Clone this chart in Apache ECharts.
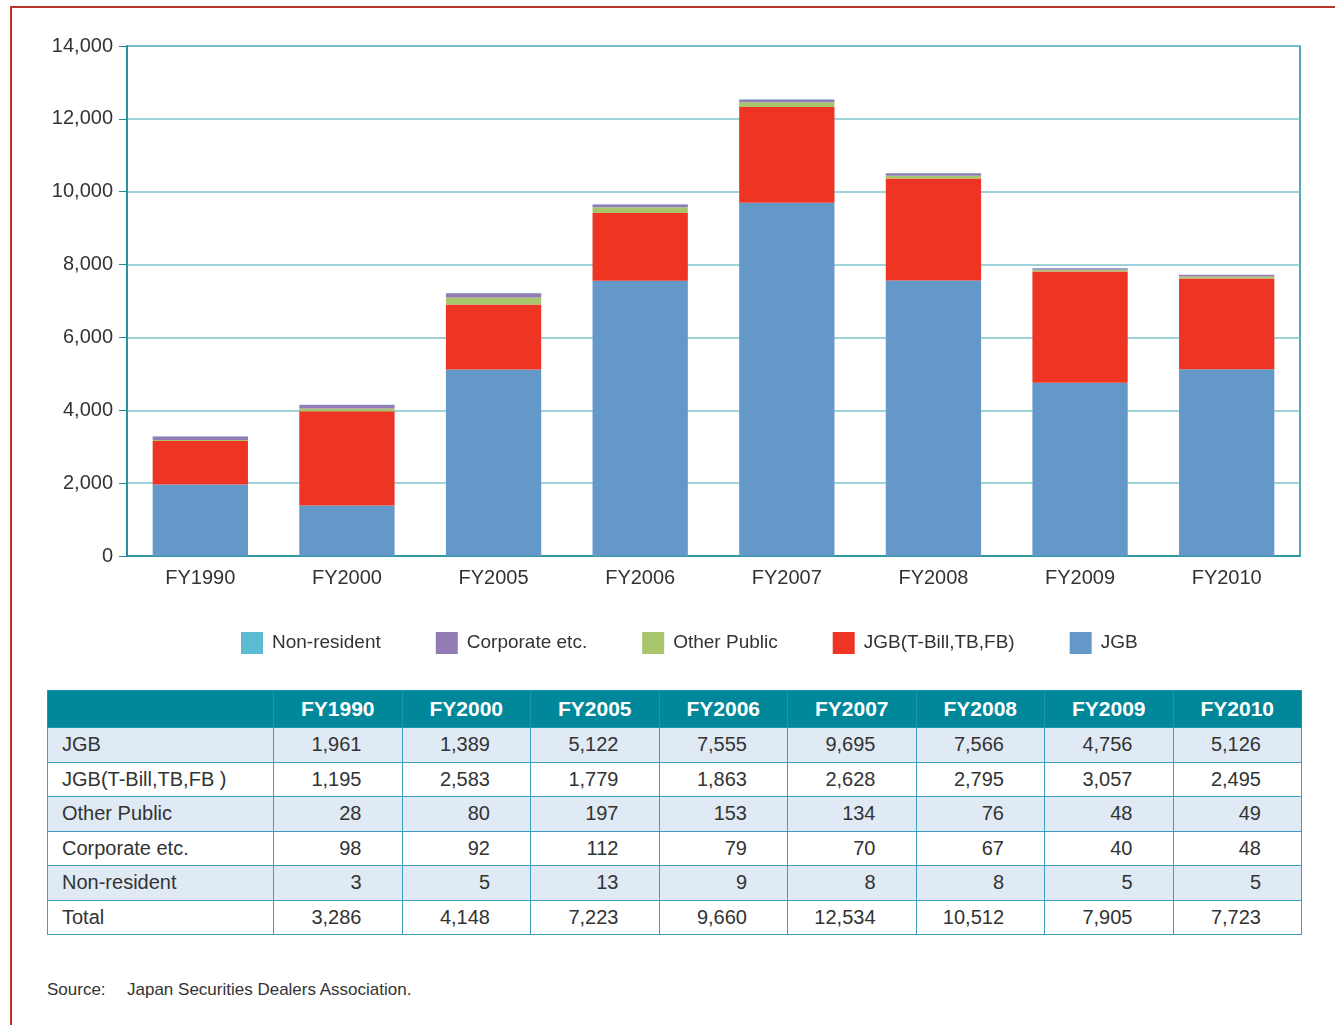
<!DOCTYPE html>
<html>
<head>
<meta charset="utf-8">
<script src="https://cdn.jsdelivr.net/npm/echarts@6/dist/echarts.min.js"></script>
<style>
  html, body { margin: 0; padding: 0; background: #fff; }
  body { width: 1335px; height: 1025px; position: relative; overflow: hidden;
         font-family: 'Liberation Sans', Arial, sans-serif; color: #333; }
  #frame { position: absolute; left: 10px; top: 6px; right: -10px; bottom: -10px;
           border-top: 2px solid #b8352c; border-left: 2px solid #b8352c; }
  #chart { position: absolute; left: 0; top: 0; width: 1335px; height: 680px; }
  #tbl { position: absolute; left: 47px; top: 690px; width: 1254px; table-layout: fixed;
         border-collapse: collapse; font-size: 20px; color: #333; }
  #tbl td, #tbl th { border: 1.5px solid #3a9fc0; padding: 0; height: 33.5px; }
  #tbl th { background: #00889a; color: #fff; font-weight: bold; font-size: 21px;
            height: 36px; border-color: #1b95b0; text-align: center; }
  #tbl td.lab { padding-left: 14px; text-align: left; }
  #tbl td.num { padding-right: 40px; text-align: right; }
  #tbl tr.alt td { background: #e0eaf4; }
  #src { position: absolute; left: 47px; top: 980px; font-size: 17px; color: #333; }
  #src span { display: inline-block; width: 80px; }
</style>
</head>
<body>
<div id="frame"></div>
<div id="chart"></div>
<table id="tbl"></table>
<div id="src"><span>Source:</span>Japan Securities Dealers Association.</div>
<script>
var years = ['FY1990', 'FY2000', 'FY2005', 'FY2006', 'FY2007', 'FY2008', 'FY2009', 'FY2010'];
var jgb = [1961, 1389, 5122, 7555, 9695, 7566, 4756, 5126];
var jgbBill = [1195, 2583, 1779, 1863, 2628, 2795, 3057, 2495];
var otherPublic = [28, 80, 197, 153, 134, 76, 48, 49];
var corporate = [98, 92, 112, 79, 70, 67, 40, 48];
var nonResident = [3, 5, 13, 9, 8, 8, 5, 5];
var totals = [3286, 4148, 7223, 9660, 12534, 10512, 7905, 7723];

var series = [
  { name: 'JGB', data: jgb, color: '#6398c9', table: 'JGB' },
  { name: 'JGB(T-Bill,TB,FB)', data: jgbBill, color: '#ee3524', table: 'JGB(T-Bill,TB,FB )' },
  { name: 'Other Public', data: otherPublic, color: '#a9c56c', table: 'Other Public' },
  { name: 'Corporate etc.', data: corporate, color: '#937cb6', table: 'Corporate etc.' },
  { name: 'Non-resident', data: nonResident, color: '#5bbbd2', table: 'Non-resident' }
];

var fnt = "'Liberation Sans', Arial, sans-serif";

echarts.init(document.getElementById('chart')).setOption({
  animation: false,
  textStyle: { fontFamily: fnt },
  grid: {
    left: 127, top: 46, width: 1173, height: 510,
    show: true, borderColor: '#1a8a99', borderWidth: 1.5
  },
  legend: {
    left: 236, top: 627,
    itemWidth: 22, itemHeight: 22, itemGap: 55,
    icon: 'rect',
    textStyle: { fontSize: 19, color: '#333', padding: [0, 0, 0, 4] },
    data: ['Non-resident', 'Corporate etc.', 'Other Public', 'JGB(T-Bill,TB,FB)', 'JGB']
  },
  xAxis: {
    type: 'category',
    data: years,
    axisLine: { lineStyle: { color: '#1a8a99', width: 1.5 } },
    axisTick: { show: false },
    axisLabel: { fontSize: 20, color: '#333', margin: 12 }
  },
  yAxis: {
    type: 'value',
    min: 0, max: 14000, interval: 2000,
    axisLine: { show: true, lineStyle: { color: '#1a8a99', width: 1.5 } },
    axisTick: { show: true, length: 8, lineStyle: { color: '#1a8a99' } },
    splitLine: { lineStyle: { color: '#80c3cf', width: 1.5 } },
    axisLabel: {
      fontSize: 20, color: '#333', margin: 14,
      formatter: function (v) { return v.toLocaleString('en-US'); }
    }
  },
  series: series.map(function (s) {
    return {
      name: s.name, type: 'bar', stack: 'all', data: s.data,
      barWidth: '65%', itemStyle: { color: s.color }
    };
  })
});

// table under the chart
var fmt = function (v) { return v.toLocaleString('en-US'); };
var html = '<colgroup><col style="width:226px">' +
  years.map(function () { return '<col style="width:128.5px">'; }).join('') + '</colgroup>';
html += '<tr><th></th>' + years.map(function (y) { return '<th>' + y + '</th>'; }).join('') + '</tr>';
var rows = series.map(function (s) { return [s.table, s.data]; });
rows.push(['Total', totals]);
rows.forEach(function (r, i) {
  html += '<tr class="' + (i % 2 === 0 ? 'alt' : '') + '"><td class="lab">' + r[0] + '</td>' +
    r[1].map(function (v) { return '<td class="num">' + fmt(v) + '</td>'; }).join('') + '</tr>';
});
document.getElementById('tbl').innerHTML = html;
</script>
</body>
</html>
